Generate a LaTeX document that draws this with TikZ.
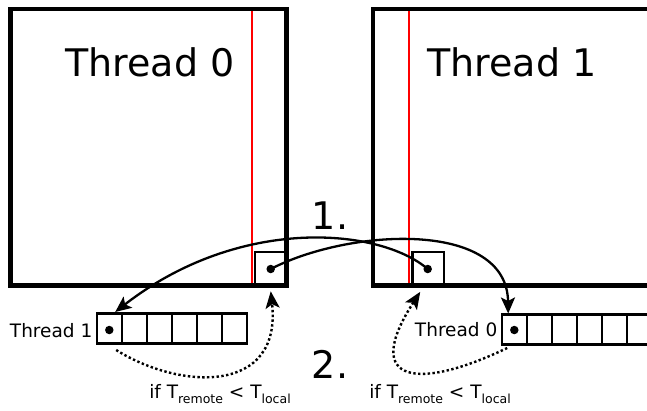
\documentclass[tikz,border=0pt]{standalone}
\usepackage{fontspec}
\setmainfont{DejaVu Sans}
\usetikzlibrary{arrows.meta}
\newcommand{\subtxt}[1]{\raisebox{-5.5pt}{\fontsize{12.5}{13}\selectfont #1}}
\tikzset{
  bigbox/.style={draw, line width=4.6pt, inner sep=0pt, outer sep=0pt, anchor=north west},
  smallsq/.style={draw, line width=2.3pt, inner sep=0pt, outer sep=0pt, anchor=north west},
  cell/.style={draw, line width=2.3pt, inner sep=0pt, outer sep=0pt, minimum width=25pt, minimum height=30pt},
  dot/.style={circle, fill=black, inner sep=0pt, outer sep=0pt, minimum size=8.5pt},
  redline/.style={draw=red, line width=2.2pt},
  bigtxt/.style={font=\fontsize{38}{40}\selectfont, inner sep=0pt, anchor=base},
  smalltxt/.style={font=\fontsize{18.5}{20}\selectfont, inner sep=0pt},
  flow/.style={line width=2.3pt, -{Stealth[length=16pt, width=14pt, inset=3.5pt]}},
  cond/.style={line width=2.4pt, dash pattern=on 2.4pt off 2.4pt, -{Stealth[length=17pt, width=14pt, inset=4pt]}}
}
\begin{document}
\begin{tikzpicture}[x=1pt, y=-1pt]
\useasboundingbox (0,0) rectangle (647,410);
\clip (0,0) rectangle (647,410);
% thread boxes
\node[bigbox, minimum width=276pt, minimum height=276.5pt] (T0) at (10.5,9) {};
\node[bigbox, minimum width=320pt, minimum height=276.5pt] (T1) at (373,9) {};
% red lines
\coordinate (r0t) at (252,11);
\coordinate (r0b) at (252,283.3);
\coordinate (r1t) at (409,11);
\coordinate (r1b) at (409,283.3);
\draw[redline] (r0t) -- (r0b);
\draw[redline] (r1t) -- (r1b);
% small squares
\node[smallsq, minimum width=31.5pt, minimum height=33pt] (sq0) at (255,252.3) {};
\node[smallsq, minimum width=31.5pt, minimum height=33pt] (sq1) at (412.5,252.3) {};
\node[dot] (d0) at (270.7,269) {};
\node[dot] (d1) at (427.7,269) {};
% titles
\node[bigtxt] (t0) at (150,76) {Thread 0};
\node[bigtxt] (t1) at (512,76) {Thread 1};
\node[bigtxt] (s1) at (330,229) {1.};
\node[bigtxt] (s2) at (330,378) {2.};
% arrays
\foreach \i in {0,...,5} \node[cell] (L\i) at (109.2+25*\i,328.5) {};
\foreach \i in {0,...,6} \node[cell] (R\i) at (514.2+25*\i,329.5) {};
\node[dot] (ld) at (109.3,330) {};
\node[dot] (rd) at (514.3,330) {};
\node[smalltxt, anchor=base east] (lab1) at (92.5,337) {Thread 1};
\node[smalltxt, anchor=base east] (lab0) at (497.5,336) {Thread 0};
% conditions
\node[smalltxt, anchor=base] (c0) at (220,398) {if T\subtxt{remote} < T\subtxt{local}};
\node[smalltxt, anchor=base] (c1) at (440,398) {if T\subtxt{remote} < T\subtxt{local}};
% arrows
\coordinate (eA) at ([xshift=-6pt,yshift=1pt]R0.north);
\coordinate (eB) at ([xshift=6pt,yshift=1.5pt]L0.north);
\draw[flow] (d0.center) .. controls (350,228) and (507,220) .. (eA);
\draw[flow] (d1.center) .. controls (380,228) and (240,215) .. (eB);
\coordinate (sA) at ([xshift=7pt,yshift=-6.5pt]L0.south);
\coordinate (tA) at ([xshift=0pt,yshift=-6pt]sq0.south);
\coordinate (sB) at ([xshift=-7pt,yshift=-3.5pt]R0.south);
\coordinate (tB) at ([xshift=-8pt,yshift=-6.5pt]sq1.south);
\draw[cond] (sA) .. controls (180,390) and (282,395) .. (tA);
\draw[cond] (sB) .. controls (420,390) and (360,385) .. (tB);
\end{tikzpicture}
\end{document}
